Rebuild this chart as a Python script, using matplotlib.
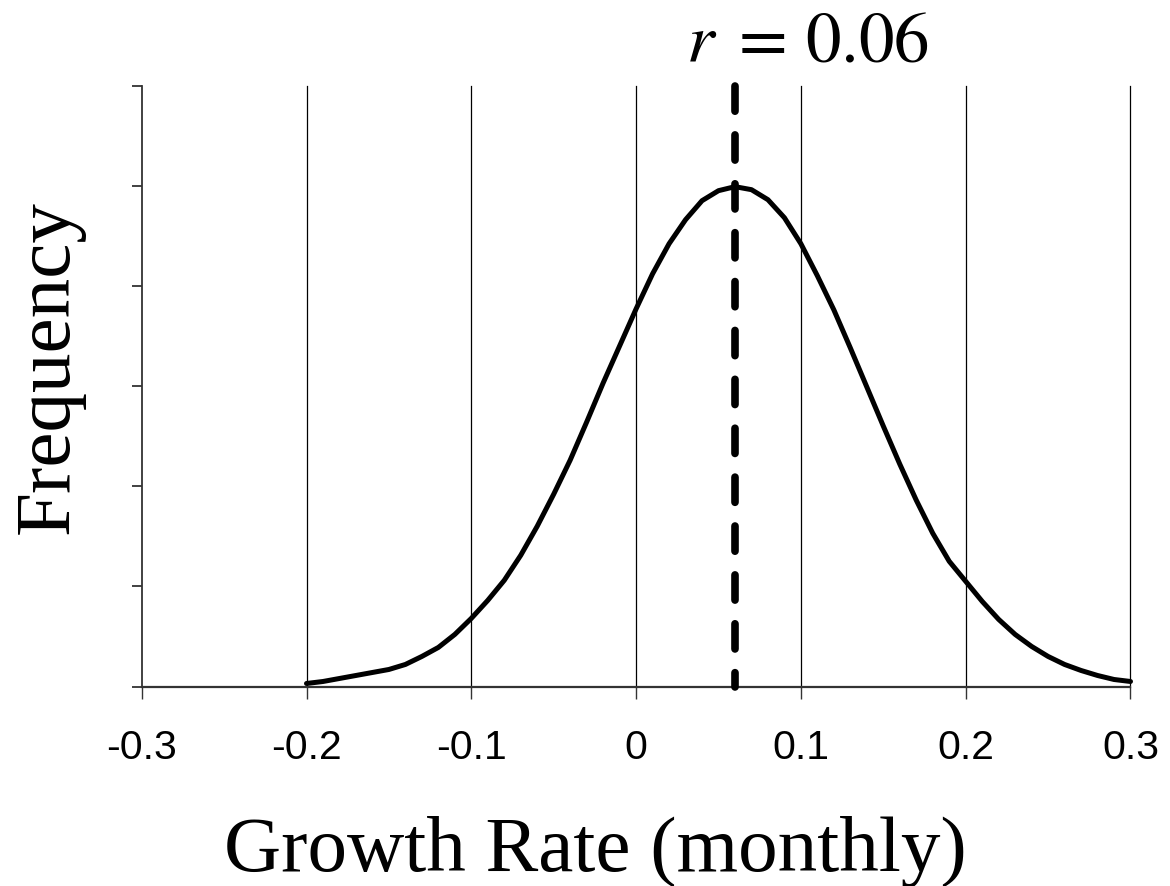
"""Bell-shaped frequency curve of monthly growth rates, mean r marked"""

import matplotlib
matplotlib.use('Agg')
import matplotlib.pyplot as plt

# Values
growth_rate = [-0.20, -0.19, -0.18, -0.17, -0.16, -0.15, -0.14, -0.13, -0.12, -0.11,
               -0.10, -0.09, -0.08, -0.07, -0.06, -0.05, -0.04, -0.03, -0.02, -0.01,
               0.00, 0.01, 0.02, 0.03, 0.04, 0.05, 0.06, 0.07, 0.08, 0.09,
               0.10, 0.11, 0.12, 0.13, 0.14, 0.15, 0.16, 0.17, 0.18, 0.19,
               0.20, 0.21, 0.22, 0.23, 0.24, 0.25, 0.26, 0.27, 0.28, 0.29, 0.30]
frequency = [0.03, 0.05, 0.08, 0.11, 0.14, 0.17, 0.22, 0.30, 0.39, 0.52,
             0.68, 0.86, 1.06, 1.31, 1.60, 1.92, 2.26, 2.64, 3.03, 3.40,
             3.77, 4.12, 4.42, 4.66, 4.85, 4.95, 4.99, 4.96, 4.86, 4.68,
             4.42, 4.10, 3.76, 3.38, 2.99, 2.60, 2.22, 1.86, 1.53, 1.25,
             1.05, 0.85, 0.67, 0.52, 0.40, 0.30, 0.22, 0.16, 0.11, 0.07, 0.05]

r_value = 0.06
x_ticks = [-0.3, -0.2, -0.1, 0, 0.1, 0.2, 0.3]
x_tick_labels = ['-0.3', '-0.2', '-0.1', '0', '0.1', '0.2', '0.3']
y_ticks = [0, 1, 2, 3, 4, 5, 6]

plt.rcParams['mathtext.fontset'] = 'stix'

W, H = 1170, 886
fig = plt.figure(figsize=(W / 100, H / 100), dpi=100)
ax = fig.add_axes([141.7 / W, 1 - 686.5 / H, (1130.5 - 141.7) / W, (686.5 - 85.5) / H])

# vertical grid lines at every x tick except the y axis itself
for xt in x_ticks[1:]:
    ax.plot([xt, xt], [0, 6], color='black', linewidth=0.9, zorder=1, clip_on=False)

ax.plot(growth_rate, frequency, color='black', linewidth=3.6,
        solid_capstyle='round', solid_joinstyle='round', zorder=3, clip_on=False)

# dashed marker at r
ax.plot([r_value, r_value], [6, 0], color='black', linewidth=5.5,
        linestyle=(0, (3.3, 3.1)), dash_capstyle='round', zorder=4, clip_on=False)

ax.set_xlim(-0.3, 0.3)
ax.set_ylim(0, 6)
ax.set_xticks(x_ticks)
ax.set_xticklabels(x_tick_labels, family='Liberation Sans', fontsize=29.5)
ax.set_yticks(y_ticks)
ax.set_yticklabels([])

for side in ['top', 'right']:
    ax.spines[side].set_visible(False)
ax.spines['left'].set_color('#333333')
ax.spines['bottom'].set_color('#333333')
ax.spines['left'].set_linewidth(1.3)
ax.spines['bottom'].set_linewidth(1.6)
ax.tick_params(axis='x', direction='out', length=8.6, width=1.0, color='#333333', pad=22)
ax.tick_params(axis='y', direction='out', length=7.2, width=1.3, color='#333333')

fig.text(595 / W, 1 - 871 / H, 'Growth Rate (monthly)', family='Liberation Serif',
         fontsize=57, ha='center', va='baseline')
fig.text(68 / W, 1 - 367 / H, 'Frequency', family='Liberation Serif', fontsize=57,
         rotation=90, rotation_mode='anchor', ha='center', va='baseline')
fig.text(686 / W, 1 - 62 / H, r'$r\;=\,0.06$', fontsize=51, ha='left', va='baseline')

fig.savefig('out.png', dpi=100)
